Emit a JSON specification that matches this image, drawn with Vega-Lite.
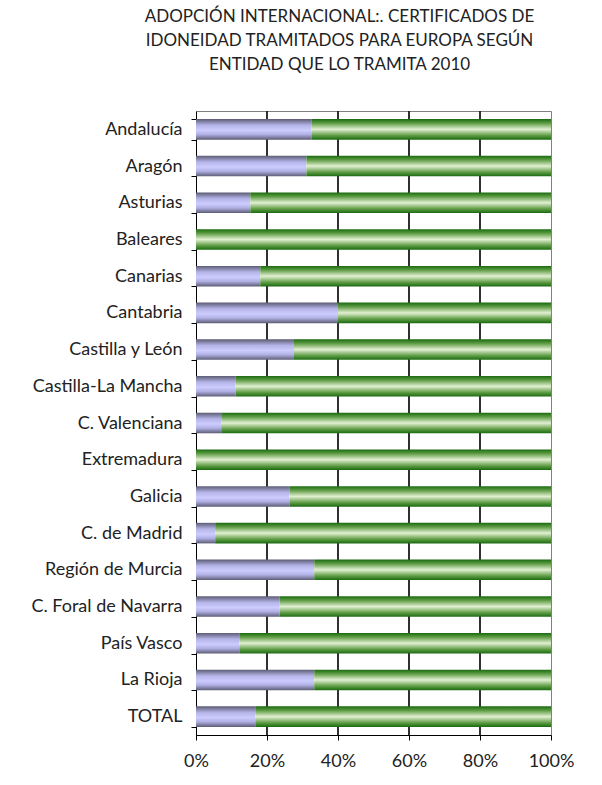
{
  "$schema": "https://vega.github.io/schema/vega-lite/v6.json",
  "autosize": "none",
  "width": 355,
  "height": 624,
  "padding": {"left": 196, "top": 111, "right": 51, "bottom": 50},
  "background": "white",
  "title": {
    "text": ["ADOPCIÓN INTERNACIONAL:. CERTIFICADOS DE", "IDONEIDAD TRAMITADOS PARA EUROPA SEGÚN", "ENTIDAD QUE LO TRAMITA 2010"],
    "font": "Lato",
    "fontSize": 17,
    "fontWeight": "normal",
    "color": "#222222",
    "lineHeight": 24,
    "anchor": "middle",
    "dx": -34,
    "offset": 28
  },
  "datasets": {
    "regiones": [
      {"region": "Andalucía", "entidad_a": 32.5, "entidad_b": 67.5},
      {"region": "Aragón", "entidad_a": 31.1, "entidad_b": 68.9},
      {"region": "Asturias", "entidad_a": 15.3, "entidad_b": 84.7},
      {"region": "Baleares", "entidad_a": 0, "entidad_b": 100},
      {"region": "Canarias", "entidad_a": 18.1, "entidad_b": 81.9},
      {"region": "Cantabria", "entidad_a": 40, "entidad_b": 60},
      {"region": "Castilla y León", "entidad_a": 27.6, "entidad_b": 72.4},
      {"region": "Castilla-La Mancha", "entidad_a": 11.1, "entidad_b": 88.9},
      {"region": "C. Valenciana", "entidad_a": 7.1, "entidad_b": 92.9},
      {"region": "Extremadura", "entidad_a": 0, "entidad_b": 100},
      {"region": "Galicia", "entidad_a": 26.3, "entidad_b": 73.7},
      {"region": "C. de Madrid", "entidad_a": 5.4, "entidad_b": 94.6},
      {"region": "Región de Murcia", "entidad_a": 33.3, "entidad_b": 66.7},
      {"region": "C. Foral de Navarra", "entidad_a": 23.6, "entidad_b": 76.4},
      {"region": "País Vasco", "entidad_a": 12.2, "entidad_b": 87.8},
      {"region": "La Rioja", "entidad_a": 33.3, "entidad_b": 66.7},
      {"region": "TOTAL", "entidad_a": 16.7, "entidad_b": 83.3}
    ],
    "rejilla": [
      {"g": 0.2}, {"g": 0.4}, {"g": 0.6}, {"g": 0.8}
    ]
  },
  "layer": [
    {
      "data": {"name": "rejilla"},
      "mark": {"type": "rule", "color": "#1a1a1a", "strokeWidth": 1.8},
      "encoding": {
        "x": {
          "field": "g",
          "type": "quantitative",
          "title": null,
          "scale": {"domain": [0, 1], "nice": false},
          "axis": {
            "format": ".0%",
            "values": [0, 0.2, 0.4, 0.6, 0.8, 1],
            "grid": false,
            "labelFlush": false,
            "tickSize": 5,
            "tickColor": "#000000",
            "domainColor": "#000000",
            "labelFont": "Lato",
            "labelFontSize": 18,
            "labelColor": "#222222",
            "labelPadding": 12
          }
        }
      }
    },
    {
      "data": {"name": "regiones"},
      "transform": [
        {"fold": ["entidad_a", "entidad_b"], "as": ["tipo", "valor"]},
        {"stack": "valor", "groupby": ["region"], "sort": [{"field": "tipo", "order": "ascending"}], "offset": "normalize", "as": ["v0", "v1"]}
      ],
      "encoding": {
        "y": {
          "field": "region",
          "type": "nominal",
          "sort": null,
          "title": null,
          "scale": {"paddingInner": 0.44, "paddingOuter": 0.22},
          "axis": {
            "grid": false,
            "tickBand": "extent",
            "tickSize": 5,
            "tickColor": "#000000",
            "domainColor": "#000000",
            "labelFont": "Lato",
            "labelFontSize": 18,
            "labelColor": "#222222",
            "labelPadding": 9,
            "labelLimit": 300
          }
        },
        "x": {
          "field": "v0",
          "type": "quantitative",
          "title": null,
          "scale": {"domain": [0, 1], "nice": false}
        },
        "x2": {"field": "v1"}
      },
      "layer": [
        {
          "transform": [{"filter": "datum.tipo == 'entidad_a'"}],
          "mark": {
            "type": "bar",
            "color": {
              "gradient": "linear", "x1": 0, "y1": 0, "x2": 0, "y2": 1,
              "stops": [
                {"offset": 0, "color": "#5c5c74"},
                {"offset": 0.3, "color": "#b4b4e8"},
                {"offset": 0.55, "color": "#ccccff"},
                {"offset": 0.75, "color": "#b0b0e4"},
                {"offset": 1, "color": "#5c5c74"}
              ]
            }
          }
        },
        {
          "transform": [{"filter": "datum.tipo == 'entidad_b'"}],
          "mark": {
            "type": "bar",
            "color": {
              "gradient": "linear", "x1": 0, "y1": 0, "x2": 0, "y2": 1,
              "stops": [
                {"offset": 0, "color": "#1a6a10"},
                {"offset": 0.2, "color": "#5e9c44"},
                {"offset": 0.5, "color": "#e2f0d2"},
                {"offset": 0.8, "color": "#5e9c44"},
                {"offset": 1, "color": "#1a6a10"}
              ]
            }
          }
        }
      ]
    }
  ],
  "config": {
    "view": {"stroke": "#808080", "strokeWidth": 1},
    "axis": {"domainWidth": 1, "tickWidth": 1}
  }
}
